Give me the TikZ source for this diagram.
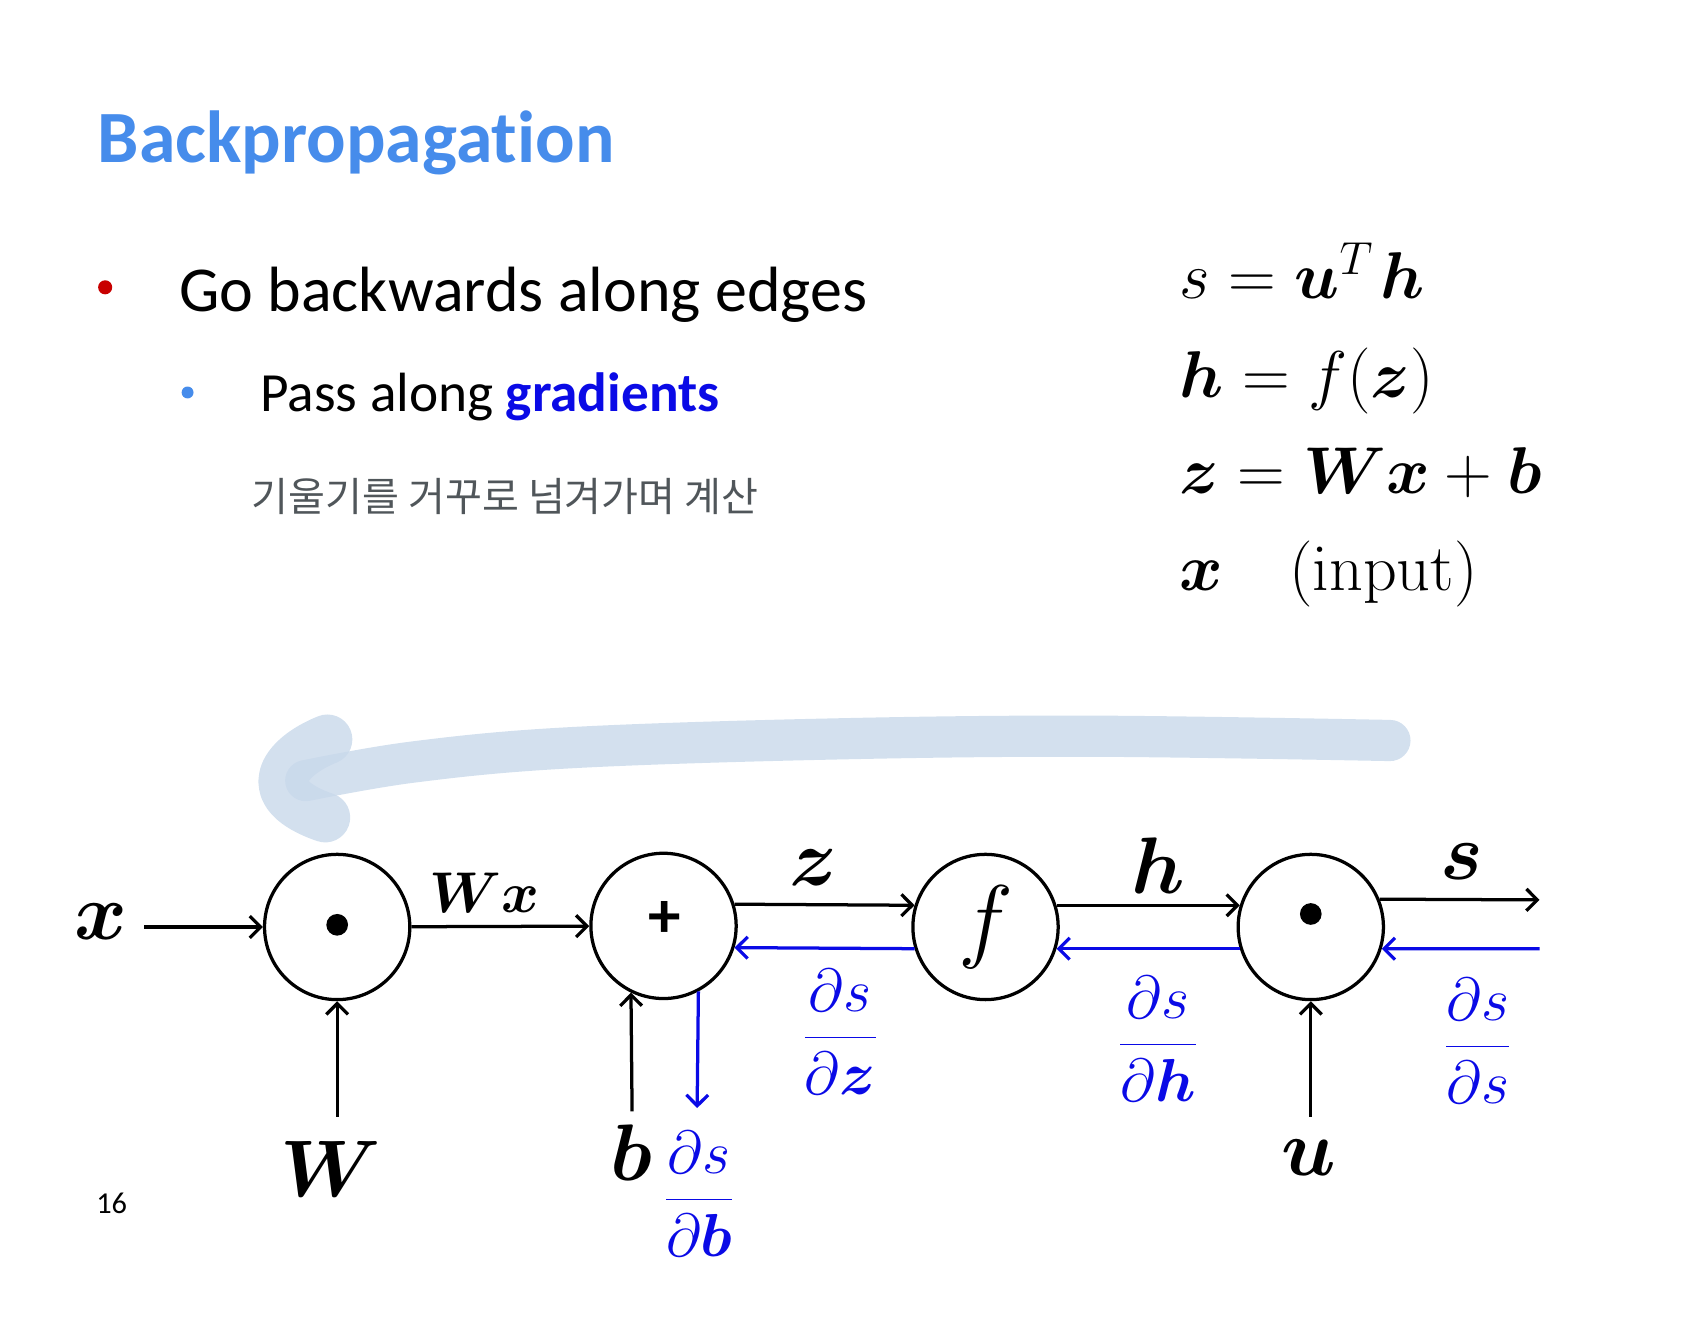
\RequirePackage{fix-cm}
\documentclass[tikz,border=0pt]{standalone}
\usepackage{amsmath}
\usepackage{bm}
\usepackage[no-math]{fontspec}
\setmainfont{Carlito}[Ligatures=NoCommon]
\newfontfamily\kofont{Noto Sans CJK KR}
\usetikzlibrary{arrows.meta}
\definecolor{titleblue}{RGB}{70,140,235}
\definecolor{gradblue}{RGB}{10,10,230}
\definecolor{swoosh}{RGB}{200,216,234}
\definecolor{hand}{RGB}{80,86,90}
\definecolor{bulletred}{RGB}{200,0,0}
\begin{document}
\begin{tikzpicture}[x=1pt,y=-1pt,
  fwd/.style={line width=3pt,-{Straight Barb[length=10pt,width=20pt]}},
  bwd/.style={draw=gradblue,line width=3pt,-{Straight Barb[length=10pt,width=20pt]}},
  opnode/.style={circle,draw,line width=3pt,minimum size=134pt,inner sep=0pt},
  biglbl/.style={font=\fontsize{74}{80}\selectfont,inner sep=0pt},
  midlbl/.style={font=\fontsize{53}{58}\selectfont,inner sep=0pt},
  fraclbl/.style={font=\fontsize{56}{62}\selectfont,inner sep=0pt,text=gradblue},
  eqline/.style={font=\fontsize{61}{66}\selectfont,inner sep=0pt,anchor=base west},
  txt/.style={inner sep=0pt,anchor=base west},
  stroke/.style={draw=swoosh,line cap=round,line join=round,opacity=0.8}
]
\useasboundingbox (0,0) rectangle (1568,1215);

% title and bullets
\node[txt,font=\fontsize{68}{74}\selectfont\bfseries,text=titleblue] (title) at (90,150) {Backpropagation};
\fill[bulletred] (97,265) circle (6.5);
\node[txt,font=\fontsize{59}{64}\selectfont] (b1) at (165,287) {Go backwards along edges};
\fill[titleblue] (173,362) circle (5.5);
\node[txt,font=\fontsize{51}{56}\selectfont] (b2) at (240,380) {Pass along \textbf{\color{gradblue}gradients}};
\node[inner sep=0pt,anchor=west,font=\kofont\fontsize{37}{42}\selectfont,text=hand] (note) at (232,458) {기울기를 거꾸로 넘겨가며 계산};

% equations
\node[eqline] (eq1) at (1088,275) {$s = \bm u^T\mkern2mu \bm h$};
\node[eqline] (eq2) at (1088,367) {$\bm h = f(\bm z)$};
\node[eqline] (eq3) at (1088,455) {$\bm z = \bm W \bm x + \bm b$};
\node[eqline] (eq4) at (1088,545) {$\bm x \quad \mathrm{(input)}$};

% swoosh
\draw[stroke,line width=38pt] plot[smooth,tension=0.6] coordinates {(1282,683) (1000,679) (750,682) (520,690) (380,703) (282,720)};
\draw[stroke,line width=46pt] (302,682) .. controls (262,698) and (236,732) .. (300,754);

% operation nodes
\node[opnode] (c1) at (311,855) {};
\fill (311,853) circle (10);
\node[opnode] (c2) at (612,854) {};
\node[inner sep=0pt,font=\fontsize{60}{64}\selectfont\bfseries] (plus) at (613,848) {+};
\node[opnode,font=\fontsize{86}{90}\selectfont] (c3) at (909,855) {$f$};
\node[opnode] (c4) at (1209,855) {};
\fill (1209,843) circle (10);

% labels
\node[biglbl] (xl) at (93,850) {$\bm x$};
\node[biglbl] (Wl) at (305,1078) {$\bm W$};
\node[biglbl] (bl) at (582,1063) {$\bm b$};
\node[biglbl] (ul) at (1207,1068) {$\bm u$};
\node[midlbl] (wxl) at (447,823) {$\bm W\bm x$};
\node[biglbl] (zl) at (750,800) {$\bm z$};
\node[biglbl] (hl) at (1068,798) {$\bm h$};
\node[biglbl] (sl) at (1348,795) {$\bm s$};

\node[fraclbl] (dz) at (775,952) {$\dfrac{\partial s}{\partial \bm z}$};
\node[fraclbl] (dh) at (1068,958) {$\dfrac{\partial s}{\partial \bm h}$};
\node[fraclbl] (ds) at (1363,960) {$\dfrac{\partial s}{\partial s}$};
\node[fraclbl] (db) at (645,1101) {$\dfrac{\partial s}{\partial \bm b}$};

\node[inner sep=0pt,font=\fontsize{28}{32}\selectfont] (pg) at (103,1110) {16};

% free ends
\coordinate (xin) at (133,855);
\coordinate (sout) at (1420,830);
\coordinate (sback) at (1420,875);
\coordinate (Wbot) at (311,1030);
\coordinate (bbot) at (583,1025);
\coordinate (ubot) at (1209,1030);
\coordinate (dbend) at (643,1022);

% forward connectors
\draw[fwd] (xin) -- (c1);
\draw[fwd] (c1) -- (c2);
\draw[fwd] (c2.17) -- (c3.163);
\draw[fwd] (c3.17) -- (c4.163);
\draw[fwd] (c4.22) -- (sout);
\draw[fwd] (Wbot) -- (c1.south);
\draw[fwd] (bbot) -- (c2.-116);
\draw[fwd] (ubot) -- (c4.south);

% backward connectors
\draw[bwd] (sback) -- (c4.-17);
\draw[bwd] (c4.197) -- (c3.-17);
\draw[bwd] (c3.197) -- (c2.-17);
\draw[bwd] (c2.-62) -- (dbend);
\end{tikzpicture}
\end{document}
